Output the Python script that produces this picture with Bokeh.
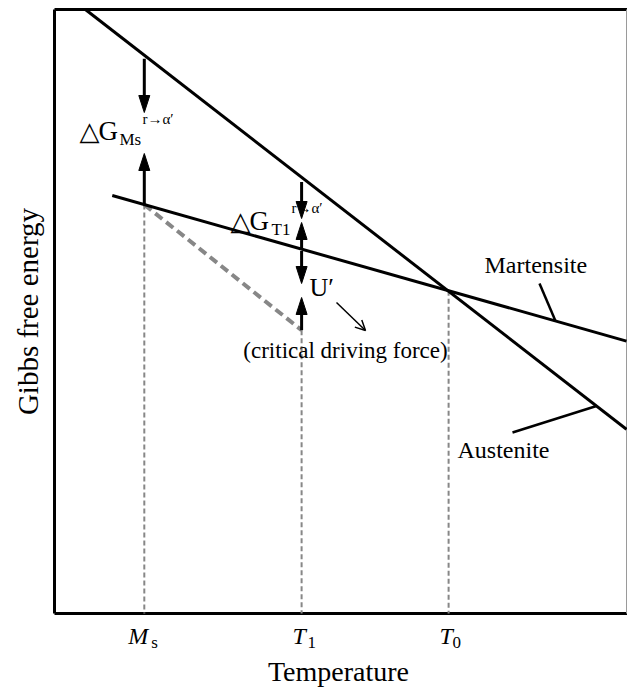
import numpy as np
from bokeh.plotting import figure
from bokeh.models import Range1d, Label, Arrow, OpenHead
from bokeh.embed import file_html
from bokeh.resources import INLINE

# ---- data (arbitrary units, plot box spans 0..100) ----
austenite_T = [5.4, 100.0]
austenite_G = [100.0, 30.5]
martensite_T = [10.1, 100.0]
martensite_G = [69.2, 45.1]
mark_names = ["Ms", "T1", "T0"]
mark_T = [15.7, 43.2, 68.9]
critical_G_T1 = 46.9
tick_main = ["M", "T", "T"]
tick_sub = ["s", "1", "0"]

# ---- layout: plot box occupies pixels x 54..626, y 9..613 ----
W, H = 627, 688
BOX_L, BOX_R, BOX_T, BOX_B = 54, 626, 9, 613
SX = (BOX_R - BOX_L) / 100.0
SY = (BOX_B - BOX_T) / 100.0
SHIFT = 8  # baseline correction for text


def px_x(px):
    return (px - BOX_L) / SX


def px_y(py):
    return (BOX_B - py) / SY


p = figure(width=W, height=H,
           x_range=Range1d(px_x(0), px_x(W)), y_range=Range1d(px_y(H), px_y(0)),
           output_backend="svg", toolbar_location=None,
           x_axis_location=None, y_axis_location=None,
           min_border=0)
p.grid.visible = False
p.outline_line_color = None
p.background_fill_color = "white"
p.border_fill_color = "white"

# plot box
p.segment(x0=[0, 0, 0], y0=[0, 100, 0], x1=[px_x(W), px_x(W), 0], y1=[0, 100, 100],
          line_color="black", line_width=3)
p.segment(x0=[100], y0=[0], x1=[100], y1=[100], line_color="#9a9a9a", line_width=1)


def g_aus(t):
    return float(np.interp(t, austenite_T, austenite_G))


def g_mar(t):
    return float(np.interp(t, martensite_T, martensite_G))


Ms, T1, T0 = mark_T
GRAY = "#878787"

# dashed guides
p.segment(x0=mark_T, y0=[g_mar(Ms), critical_G_T1, g_mar(T0)], x1=mark_T, y1=[0, 0, 0],
          line_color=GRAY, line_width=2, line_dash="5 3")
p.line([Ms, T1], [g_mar(Ms), critical_G_T1], line_color=GRAY, line_width=4, line_dash="9 5")

# free energy lines
p.line(austenite_T, austenite_G, line_color="black", line_width=3)
p.line(martensite_T, martensite_G, line_color="black", line_width=3)

# leader lines for labels
mx = px_x(555)
p.line([px_x(539), mx], [px_y(283), g_mar(mx)], line_color="black", line_width=2.5)
ax = px_x(596)
p.line([px_x(512), ax], [px_y(432), g_aus(ax)], line_color="black", line_width=2.5)

# vertical driving-force arrows
arrows = [
    (Ms, g_aus(Ms) - 0.6, px_y(112)),
    (Ms, g_mar(Ms), px_y(153)),
    (T1, g_aus(T1) - 0.8, px_y(218)),
    (T1, g_mar(T1), px_y(222)),
    (T1, g_mar(T1) - 0.3, px_y(283)),
    (T1, critical_G_T1, px_y(297)),
]
hl = 17 / SY
hw = 5.5 / SX
sx0, sy0, sx1, sy1, hxs, hys = [], [], [], [], [], []
for x, ys, yt in arrows:
    d = 1 if yt > ys else -1
    base = yt - d * hl
    sx0.append(x); sy0.append(ys); sx1.append(x); sy1.append(base + d * hl * 0.3)
    hxs.append([x - hw, x, x + hw])
    hys.append([base, yt, base])
p.segment(x0=sx0, y0=sy0, x1=sx1, y1=sy1, line_color="black", line_width=3)
p.patches(hxs, hys, fill_color="black", line_color="black", line_width=1)

# thin pointer arrow
p.add_layout(Arrow(end=OpenHead(size=10, line_width=1.5, line_color="black"),
                   x_start=px_x(336), y_start=px_y(302), x_end=px_x(365), y_end=px_y(330),
                   line_width=1.5, line_color="black"))

SERIF = "Liberation Serif"


def lab(text, px, py, size, font=SERIF, style="normal", align="left",
        baseline="alphabetic", angle=0.0, shift=SHIFT):
    p.add_layout(Label(x=px_x(px), y=px_y(py - shift), text=text, text_font=font,
                       text_font_size=f"{size}px", text_font_style=style,
                       text_align=align, text_baseline=baseline, angle=angle,
                       text_color="black"))


# ΔG at Ms
lab("△", 99, 138, 26, font="DejaVu Sans", align="right")
lab("G", 98, 138, 27)
lab("Ms", 119, 143, 17, shift=4)
lab("r→α′", 142, 126, 15)
# ΔG at T1
lab("△", 250, 228, 26, font="DejaVu Sans", align="right")
lab("G", 249, 228, 27)
lab("T1", 271, 233, 17, shift=4)
lab("r→α′", 291, 215, 15)
# U'
lab("U′", 309, 295, 26)
lab("(critical driving force)", 345, 358, 23, align="center")
lab("Martensite", 484, 272, 24)
lab("Austenite", 457, 457, 24)

# axis titles
lab("Temperature", 338, 679, 28, align="center")
lab("Gibbs free energy", 27, 311, 29, align="center", baseline="middle", angle=np.pi / 2, shift=0)

# tick labels
main_off = [-16, -9, -9]
sub_off = [7, 6, 4]
for t, m, s, mo, so in zip(mark_T, tick_main, tick_sub, main_off, sub_off):
    p.add_layout(Label(x=t, y=px_y(643 - SHIFT), x_offset=mo, text=m, text_font=SERIF,
                       text_font_size="24px", text_font_style="italic",
                       text_align="left", text_baseline="alphabetic", text_color="black"))
    p.add_layout(Label(x=t, y=px_y(647 - 5), x_offset=so, text=s, text_font=SERIF,
                       text_font_size="17px", text_align="left",
                       text_baseline="alphabetic", text_color="black"))

open("out.html", "w").write(file_html(p, INLINE))
